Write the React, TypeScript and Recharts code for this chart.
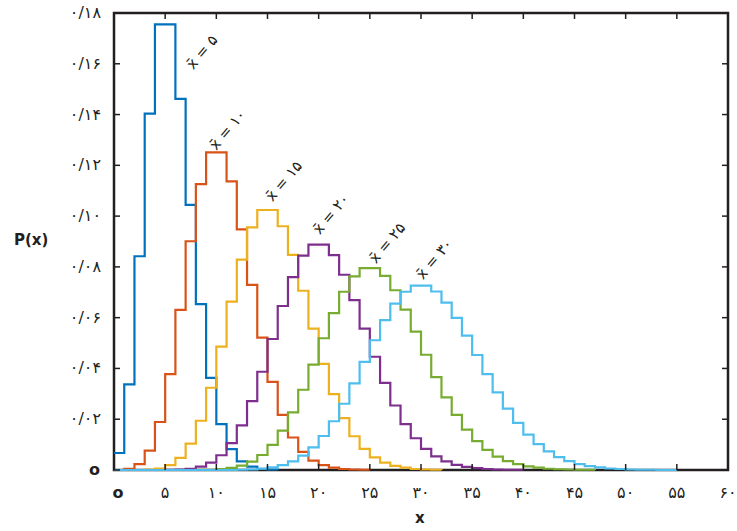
import React from 'react';
import { LineChart, Line, XAxis, YAxis, ReferenceArea, ReferenceDot } from 'recharts';

// Poisson probabilities, one array per mean, index = x
const mean5 = [0.0067, 0.0337, 0.0842, 0.1404, 0.1755, 0.1755, 0.1462, 0.1044, 0.0653, 0.0363, 0.0181, 0.0082, 0.0034, 0.0013, 0.0005, 0.0002, 0.0000];
const mean10 = [0.0000, 0.0005, 0.0023, 0.0076, 0.0189, 0.0378, 0.0631, 0.0901, 0.1126, 0.1251, 0.1251, 0.1137, 0.0948, 0.0729, 0.0521, 0.0347, 0.0217, 0.0128, 0.0071, 0.0037, 0.0019, 0.0009, 0.0004, 0.0002, 0.0001, 0.0000];
const mean15 = [0.0000, 0.0000, 0.0000, 0.0002, 0.0006, 0.0019, 0.0048, 0.0104, 0.0194, 0.0324, 0.0486, 0.0663, 0.0829, 0.0956, 0.1024, 0.1024, 0.0960, 0.0847, 0.0706, 0.0557, 0.0418, 0.0299, 0.0204, 0.0133, 0.0083, 0.0050, 0.0029, 0.0016, 0.0009, 0.0004, 0.0002, 0.0001, 0.0000];
const mean20 = [0, 0, 0, 0, 0.0000, 0.0001, 0.0002, 0.0005, 0.0013, 0.0029, 0.0058, 0.0106, 0.0176, 0.0271, 0.0387, 0.0516, 0.0646, 0.0760, 0.0844, 0.0888, 0.0888, 0.0846, 0.0769, 0.0669, 0.0557, 0.0446, 0.0343, 0.0254, 0.0181, 0.0125, 0.0083, 0.0054, 0.0034, 0.0020, 0.0012, 0.0007, 0.0004, 0.0002, 0.0001, 0.0001, 0.0000];
const mean25 = [0, 0, 0, 0, 0, 0, 0, 0.0000, 0.0001, 0.0001, 0.0004, 0.0008, 0.0017, 0.0033, 0.0059, 0.0099, 0.0155, 0.0227, 0.0316, 0.0415, 0.0519, 0.0618, 0.0702, 0.0763, 0.0795, 0.0795, 0.0765, 0.0708, 0.0632, 0.0545, 0.0454, 0.0366, 0.0286, 0.0217, 0.0159, 0.0114, 0.0079, 0.0053, 0.0035, 0.0023, 0.0014, 0.0009, 0.0005, 0.0003, 0.0002, 0.0001, 0.0001, 0.0000];
const mean30 = [0, 0, 0, 0, 0, 0, 0, 0, 0, 0, 0.0000, 0.0000, 0.0001, 0.0002, 0.0005, 0.0010, 0.0019, 0.0034, 0.0057, 0.0089, 0.0134, 0.0192, 0.0261, 0.0341, 0.0426, 0.0511, 0.0590, 0.0655, 0.0702, 0.0726, 0.0726, 0.0703, 0.0659, 0.0599, 0.0529, 0.0453, 0.0378, 0.0306, 0.0242, 0.0186, 0.0139, 0.0102, 0.0073, 0.0051, 0.0035, 0.0023, 0.0015, 0.0010, 0.0006, 0.0004, 0.0002, 0.0001, 0.0001, 0.0000, 0.0000, 0.0000];

const seriesKeys = ['m5', 'm10', 'm15', 'm20', 'm25', 'm30'];
const seriesValues = [mean5, mean10, mean15, mean20, mean25, mean30];
const seriesColors = ['#0072BD', '#D95319', '#EDB120', '#7E2F8E', '#77AC30', '#4DBEEE'];

// annotation text and where it sits (data coords)
const annoText = ['x̄ = ۵', 'x̄ = ۱۰', 'x̄ = ۱۵', 'x̄ = ۲۰', 'x̄ = ۲۵', 'x̄ = ۳۰'];
const annoX = [8.6, 11.1, 16.6, 21.2, 26.7, 31.3];
const annoY = [0.1646, 0.134, 0.1138, 0.1008, 0.0894, 0.0831];

const xTicks = [0, 5, 10, 15, 20, 25, 30, 35, 40, 45, 50, 55, 60];
const xTickLabels = ['o', '۵', '۱۰', '۱۵', '۲۰', '۲۵', '۳۰', '۳۵', '۴۰', '۴۵', '۵۰', '۵۵', '۶۰'];
const yTicks = [0, 0.02, 0.04, 0.06, 0.08, 0.1, 0.12, 0.14, 0.16, 0.18];
const yTickLabels = ['o', '۰/۰۲', '۰/۰۴', '۰/۰۶', '۰/۰۸', '۰/۱۰', '۰/۱۲', '۰/۱۴', '۰/۱۶', '۰/۱۸'];

const data = Array.from({ length: 61 }, (_, k) => {
  const row: any = { k };
  seriesKeys.forEach((key, i) => {
    row[key] = seriesValues[i][k];
  });
  return row;
});

const W = 737;
const H = 531;
const PLOT_LEFT = 114;
const PLOT_RIGHT = 728;
const PLOT_TOP = 13;
const PLOT_BOTTOM = 470;
const FRAME = '#231f20';
const FONT = '"DejaVu Sans", sans-serif';

const XTick = (props: any) => {
  const { x, payload } = props;
  const label = xTickLabels[xTicks.indexOf(payload.value)];
  const isZero = payload.value === 0;
  return (
    <g>
      <line x1={x} x2={x} y1={PLOT_BOTTOM} y2={PLOT_BOTTOM - 6} stroke={FRAME} strokeWidth={1.5} />
      <line x1={x} x2={x} y1={PLOT_TOP} y2={PLOT_TOP + 6} stroke={FRAME} strokeWidth={1.5} />
      <text
        x={isZero ? x + 4 : x}
        y={PLOT_BOTTOM + 28}
        textAnchor="middle"
        fontFamily={FONT}
        fontSize={16}
        fontWeight={isZero ? 'bold' : 'normal'}
        fill="#231f20"
      >
        {label}
      </text>
    </g>
  );
};

const YTick = (props: any) => {
  const { y, payload } = props;
  const label = yTickLabels[yTicks.indexOf(payload.value)];
  const isZero = payload.value === 0;
  return (
    <g>
      <line x1={PLOT_LEFT} x2={PLOT_LEFT + 6} y1={y} y2={y} stroke={FRAME} strokeWidth={1.5} />
      <line x1={PLOT_RIGHT - 6} x2={PLOT_RIGHT} y1={y} y2={y} stroke={FRAME} strokeWidth={1.5} />
      <text
        x={isZero ? PLOT_LEFT - 14 : PLOT_LEFT - 13}
        y={y + 5}
        textAnchor="end"
        fontFamily={FONT}
        fontSize={16}
        fontWeight={isZero ? 'bold' : 'normal'}
        fill="#231f20"
      >
        {label}
      </text>
    </g>
  );
};

const App: React.FC = () => {
  return (
    <div style={{ position: 'absolute', left: 0, top: 0, width: W, height: H, background: '#fff' }}>
      <LineChart
        width={W}
        height={H}
        data={data}
        margin={{ top: PLOT_TOP, right: W - PLOT_RIGHT, left: 54, bottom: 31 }}
      >
        <XAxis
          dataKey="k"
          type="number"
          domain={[0, 60]}
          ticks={xTicks}
          height={30}
          axisLine={false}
          tickLine={false}
          tick={<XTick />}
          interval={0}
        />
        <YAxis
          type="number"
          domain={[0, 0.18]}
          ticks={yTicks}
          width={60}
          axisLine={false}
          tickLine={false}
          tick={<YTick />}
          interval={0}
        />
        {seriesKeys.map((key, i) => (
          <Line
            key={key}
            type="stepAfter"
            dataKey={key}
            stroke={seriesColors[i]}
            strokeWidth={2.2}
            dot={false}
            activeDot={false}
            isAnimationActive={false}
          />
        ))}
        <ReferenceArea
          x1={0}
          x2={60}
          y1={0}
          y2={0.18}
          fill="none"
          stroke={FRAME}
          strokeWidth={2.5}
          ifOverflow="visible"
        />
        {annoText.map((t, i) => (
          <ReferenceDot
            key={t}
            x={annoX[i]}
            y={annoY[i]}
            r={0}
            ifOverflow="visible"
            shape={(p: any) => (
              <text
                x={p.cx}
                y={p.cy}
                textAnchor="middle"
                dominantBaseline="central"
                transform={`rotate(-50 ${p.cx} ${p.cy})`}
                fontFamily={FONT}
                fontSize={15}
                fill="#231f20"
              >
                {t}
              </text>
            )}
          />
        ))}
      </LineChart>
      <div style={{ position: 'absolute', left: 14, top: 231, fontFamily: FONT, fontWeight: 'bold', fontSize: 15, color: '#231f20' }}>
        P(x)
      </div>
      <div style={{ position: 'absolute', left: 415, top: 509, fontFamily: FONT, fontWeight: 'bold', fontSize: 15, color: '#231f20' }}>
        x
      </div>
    </div>
  );
};

export default App;
